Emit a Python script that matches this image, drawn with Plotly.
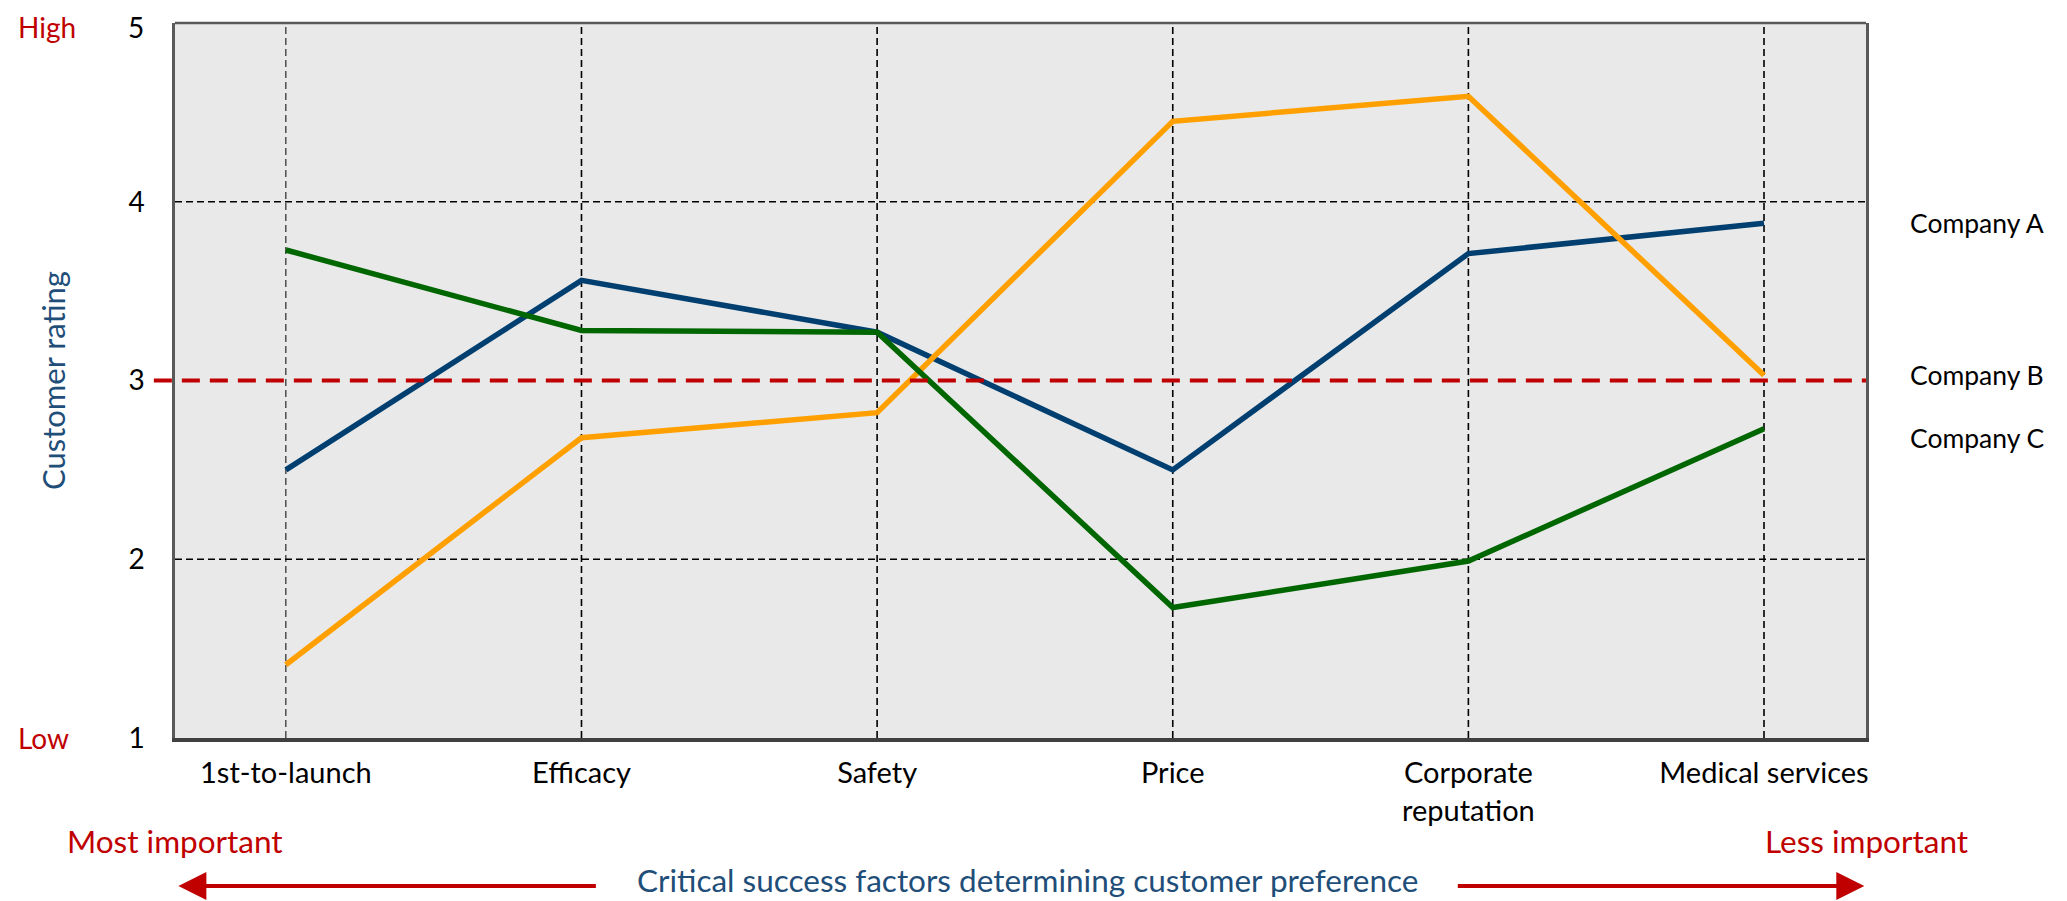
import plotly.graph_objects as go

# ---------------- data ----------------
categories = ["1st-to-launch", "Efficacy", "Safety", "Price", "Corporate<br>reputation", "Medical services"]
company_a = [2.50, 3.56, 3.27, 2.50, 3.71, 3.88]
company_b = [1.41, 2.68, 2.82, 4.45, 4.59, 3.03]
company_c = [3.73, 3.28, 3.27, 1.73, 1.99, 2.73]
series_names = ["Company A", "Company B", "Company C"]
y_ticks = [1, 2, 3, 4, 5]
grid_y = [2, 4]
benchmark = 3

# ---------------- styles ----------------
W, H = 2059, 893          # page body has an 8px margin
M_L, M_R, M_T, M_B = 167, 201, 15, 163
FONT = "Lato"
RED = "#C00000"
TXT_BLUE = "#1F4E79"
colors = ["#003F6F", "#FFA000", "#006600"]
label_shift = [0, 0, -9]

x_idx = list(range(len(categories)))
fig = go.Figure()

for name, vals, col in zip(series_names, [company_a, company_b, company_c], colors):
    fig.add_trace(go.Scatter(x=x_idx, y=vals, mode="lines", name=name,
                             line=dict(color=col, width=5.5), showlegend=False))

shapes = []
# vertical dashed grid lines at categories
for i in x_idx:
    shapes.append(dict(type="line", xref="x", yref="paper", x0=i, x1=i, y0=0, y1=1,
                       line=dict(color="black", width=1 if i == 0 else 1.6, dash="7px,4px"),
                       layer="below"))
# horizontal dashed grid lines
for gy in grid_y:
    shapes.append(dict(type="line", xref="paper", yref="y", x0=0, x1=1, y0=gy, y1=gy,
                       line=dict(color="black", width=1.6, dash="7px,4px"), layer="below"))
# benchmark red dashed line
shapes.append(dict(type="line", xref="paper", yref="y", x0=-0.0125, x1=1, y0=benchmark, y1=benchmark,
                   line=dict(color=RED, width=4, dash="18px,10px"), layer="above"))
# top border
shapes.append(dict(type="line", xref="paper", yref="paper", x0=0, x1=1, y0=1, y1=1,
                   line=dict(color="#595959", width=2.5)))

# y tick texts: the top one is drawn as an annotation so it stays inside the page
top_tick = y_ticks[-1]
y_ticktext = [str(v) for v in y_ticks[:-1]] + [""]

annotations = []
annotations.append(dict(text=str(top_tick), xref="paper", yref="paper", x=0, y=1, yshift=15,
                        xshift=-29, xanchor="right", yanchor="top", showarrow=False,
                        font=dict(family=FONT, size=28, color="black")))
# company labels at right
for name, vals, sh in zip(series_names, [company_a, company_b, company_c], label_shift):
    annotations.append(dict(text=name, xref="paper", yref="y", x=1.025, y=vals[-1], yshift=sh,
                            xanchor="left", yanchor="middle", showarrow=False,
                            font=dict(family=FONT, size=26.5, color="black")))
# High / Low
annotations.append(dict(text="High", xref="paper", yref="paper", x=-0.094, y=1, yshift=15,
                        xanchor="left", yanchor="top", showarrow=False,
                        font=dict(family=FONT, size=28, color=RED)))
annotations.append(dict(text="Low", xref="paper", yref="y", x=-0.094, y=1, xanchor="left",
                        yanchor="middle", showarrow=False, font=dict(family=FONT, size=28, color=RED)))
# importance labels
annotations.append(dict(text="Most important", xref="paper", yref="paper", x=0, y=-0.144,
                        xanchor="center", yanchor="middle", showarrow=False,
                        font=dict(family=FONT, size=31.5, color=RED)))
annotations.append(dict(text="Less important", xref="paper", yref="paper", x=1, y=-0.144,
                        xanchor="center", yanchor="middle", showarrow=False,
                        font=dict(family=FONT, size=31.5, color=RED)))
annotations.append(dict(text="Critical success factors determining customer preference",
                        xref="paper", yref="paper", x=0.504, y=-0.199, xanchor="center",
                        yanchor="middle", showarrow=False, font=dict(family=FONT, size=31.5, color=TXT_BLUE)))
# arrows (tail offsets in pixels)
annotations.append(dict(text="", xref="paper", yref="paper",
                        x=0.002, y=-0.207, ax=419, ay=0, showarrow=True,
                        arrowhead=2, arrowsize=1.4, arrowwidth=4, arrowcolor=RED))
annotations.append(dict(text="", xref="paper", yref="paper",
                        x=0.999, y=-0.207, ax=-408, ay=0, showarrow=True,
                        arrowhead=2, arrowsize=1.4, arrowwidth=4, arrowcolor=RED))

fig.update_layout(
    width=W, height=H,
    margin=dict(l=M_L, r=M_R, t=M_T, b=M_B, autoexpand=False),
    paper_bgcolor="white", plot_bgcolor="#E9E9E9",
    shapes=shapes, annotations=annotations,
    font=dict(family=FONT, color="black"),
    xaxis=dict(range=[-0.375, 5.345], tickmode="array", tickvals=x_idx, ticktext=categories,
               showgrid=False, zeroline=False, showline=True, linecolor="#404040", linewidth=4,
               ticks="", tickfont=dict(family=FONT, size=29, color="black"), ticklabelstandoff=6),
    yaxis=dict(range=[1, 5], tickmode="array", tickvals=y_ticks, ticktext=y_ticktext,
               showgrid=False, zeroline=False,
               showline=True, mirror=True, linecolor="#595959", linewidth=2.5, ticks="",
               tickfont=dict(family=FONT, size=28, color="black"), ticklabelstandoff=22,
               title=dict(text="Customer rating", font=dict(family=FONT, size=31, color=TXT_BLUE),
                          standoff=54)),
)

fig.write_html("out.html")
